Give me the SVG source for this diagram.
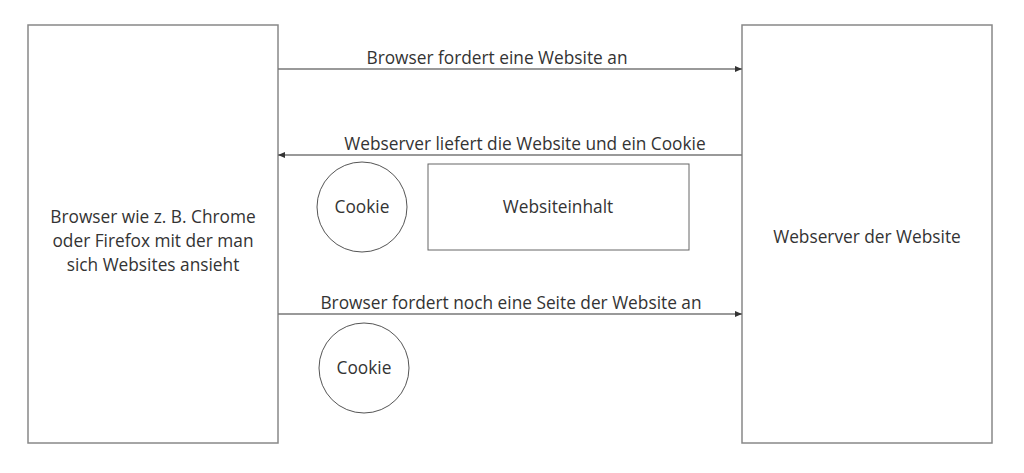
<svg xmlns="http://www.w3.org/2000/svg" width="1024" height="473" viewBox="0 0 1024 473">
<style>
text{font-family:"Open Sans","Liberation Sans",sans-serif;font-size:17.3px;fill:#333;text-anchor:middle}
.box{fill:#fff;stroke:#888;stroke-width:1.5}
.circ{fill:#fff;stroke:#555;stroke-width:1}
.rect{fill:#fff;stroke:#666;stroke-width:1}
.conn{stroke:#777;stroke-width:1.3;fill:none}
</style>
<defs>
<marker id="ah" markerWidth="8" markerHeight="6" refX="7" refY="3" orient="auto" markerUnits="userSpaceOnUse">
<path d="M0,0 L7,3 L0,6 Z" fill="#333"/>
</marker>
</defs>
<rect width="1024" height="473" fill="#fff"/>
<g id="browser">
<rect class="box" x="28" y="25" width="250" height="418"/>
<text x="153" y="223">Browser wie z. B. Chrome</text>
<text x="153" y="247">oder Firefox mit der man</text>
<text x="153" y="271">sich Websites ansieht</text>
</g>
<g id="webserver">
<rect class="box" x="742" y="25" width="250" height="418"/>
<text x="867" y="243">Webserver der Website</text>
</g>
<g id="cookie1">
<circle class="circ" cx="362" cy="207" r="45"/>
<text x="362" y="213">Cookie</text>
</g>
<g id="websiteinhalt">
<rect class="rect" x="428" y="164" width="261" height="86"/>
<text x="558" y="213">Websiteinhalt</text>
</g>
<g id="cookie2">
<circle class="circ" cx="364" cy="368" r="45"/>
<text x="364" y="374">Cookie</text>
</g>
<g id="connectors">
<line class="conn" x1="278" y1="69" x2="742" y2="69" marker-end="url(#ah)"/>
<text x="497" y="64">Browser fordert eine Website an</text>
<line class="conn" x1="742" y1="155" x2="278" y2="155" marker-end="url(#ah)"/>
<text x="525" y="150">Webserver liefert die Website und ein Cookie</text>
<line class="conn" x1="278" y1="314" x2="742" y2="314" marker-end="url(#ah)"/>
<text x="511" y="309">Browser fordert noch eine Seite der Website an</text>
</g>
</svg>
